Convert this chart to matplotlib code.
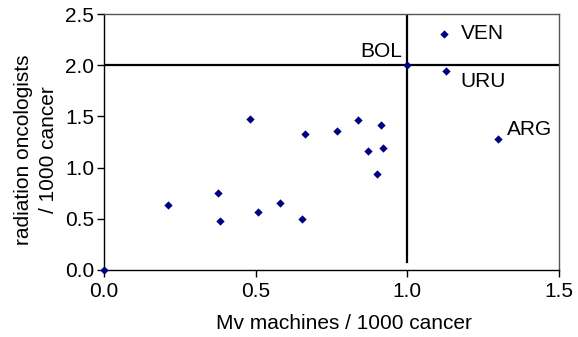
import numpy as np
import matplotlib.pyplot as plt

plt.rcParams['font.family'] = ['Liberation Sans', 'DejaVu Sans']

# Mv machines / 1000 cancer vs radiation oncologists / 1000 cancer
mv_machines = [0.0, 0.21, 0.377, 0.382, 0.48, 0.507, 0.579, 0.653, 0.664,
               0.769, 0.836, 0.872, 0.901, 0.912, 0.92, 1.0, 1.121, 1.128, 1.30]
oncologists = [0.0, 0.63, 0.755, 0.48, 1.48, 0.566, 0.651, 0.495, 1.33,
               1.354, 1.468, 1.165, 0.94, 1.42, 1.195, 2.0, 2.31, 1.94, 1.28]

labels = ['BOL', 'VEN', 'URU', 'ARG']
label_x = [1.0, 1.121, 1.128, 1.30]
label_y = [2.0, 2.31, 1.94, 1.28]

x_ref = 1.0
y_ref = 2.0

fig = plt.figure(figsize=(5.78, 3.37), dpi=100)
ax = fig.add_axes([0.18, 0.199, 0.787, 0.759])

ax.scatter(mv_machines, oncologists, marker='D', s=18, color='#000080',
           zorder=3, clip_on=False, linewidths=0)

ax.axhline(y_ref, color='black', lw=1.6, zorder=2)
ax.axvline(x_ref, ymin=0.03, color='black', lw=1.6, zorder=2)

# point labels
fs = 15
ax.annotate('BOL', (label_x[0], label_y[0]), xytext=(-4, 3), textcoords='offset points',
            ha='right', va='bottom', fontsize=fs)
ax.annotate('VEN', (label_x[1], label_y[1]), xytext=(12, 0), textcoords='offset points',
            ha='left', va='center', fontsize=fs)
ax.annotate('URU', (label_x[2], label_y[2]), xytext=(10.5, -7), textcoords='offset points',
            ha='left', va='center', fontsize=fs)
ax.annotate('ARG', (label_x[3], label_y[3]), xytext=(6, 7), textcoords='offset points',
            ha='left', va='center', fontsize=fs)

ax.set_xlim(0, 1.5)
ax.set_ylim(0, 2.5)
ax.set_xticks(np.arange(0, 1.51, 0.5))
ax.set_yticks(np.arange(0, 2.51, 0.5))
ax.xaxis.set_major_formatter(plt.FormatStrFormatter('%.1f'))
ax.yaxis.set_major_formatter(plt.FormatStrFormatter('%.1f'))
ax.tick_params(axis='both', direction='out', length=5, width=1, labelsize=fs)
ax.tick_params(axis='x', pad=4)
ax.tick_params(axis='y', pad=2)

for side in ['left', 'bottom']:
    ax.spines[side].set_color('black')
    ax.spines[side].set_linewidth(1.0)
for side in ['top', 'right']:
    ax.spines[side].set_color('#555555')
    ax.spines[side].set_linewidth(1.0)

ax.set_xlabel('Mv machines / 1000 cancer', fontsize=fs, labelpad=9)
ax.set_ylabel('radiation oncologists\n/ 1000 cancer', fontsize=fs, labelpad=5,
              multialignment='center', linespacing=1.4)
ax.xaxis.label.set_x(0.527)
ax.yaxis.label.set_y(0.47)

fig.savefig('out.png', dpi=100)
